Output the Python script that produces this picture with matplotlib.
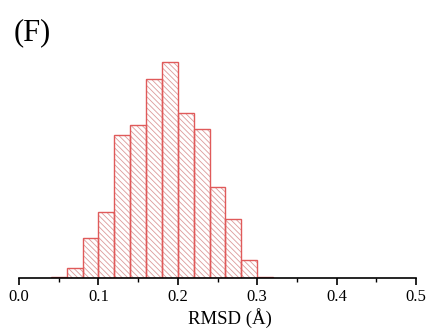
import matplotlib
matplotlib.use("Agg")
import matplotlib.pyplot as plt
import numpy as np
from matplotlib.ticker import MultipleLocator, FormatStrFormatter

plt.rcParams['font.family'] = ['Liberation Serif', 'DejaVu Serif']
plt.rcParams['hatch.linewidth'] = 0.6

bin_left = [0.04, 0.06, 0.08, 0.10, 0.12, 0.14, 0.16, 0.18, 0.20, 0.22, 0.24, 0.26, 0.28, 0.30]
counts = [1.3, 10, 40, 66, 143, 153, 199, 216, 165, 149, 91, 59, 18, 1.3]
bin_width = 0.02

fig = plt.figure(figsize=(4.32, 3.35), dpi=100)
ax = fig.add_axes([19/432, 57/335, (416-19)/432, 228/335])

ax.bar(bin_left, counts, width=bin_width, align='edge', color='white',
       edgecolor='#dc9a9a', hatch=r'\\\\\\', linewidth=0)
ax.bar(bin_left, counts, width=bin_width, align='edge', fill=False,
       edgecolor='#e05a5a', linewidth=1.0)

ax.set_xlim(0, 0.5)
ax.set_ylim(0, 228)
for s in ['top', 'right', 'left']:
    ax.spines[s].set_visible(False)
ax.spines['bottom'].set_linewidth(1.2)
ax.set_yticks([])
ax.xaxis.set_major_locator(MultipleLocator(0.1))
ax.xaxis.set_minor_locator(MultipleLocator(0.05))
ax.xaxis.set_major_formatter(FormatStrFormatter('%.1f'))
ax.tick_params(axis='x', which='major', direction='out', length=5, width=1.2, labelsize=12, pad=3)
ax.tick_params(axis='x', which='minor', direction='out', length=3, width=1.0)
ax.set_xlabel('RMSD (Å)', fontsize=13.5)
ax.xaxis.set_label_coords((230 - 19) / 397, (278 - 308) / 228)
ax.xaxis.label.set_va('top')

fig.text(14/432, 1 - 33/335, '(F)', fontsize=22, va='center', ha='left')

fig.savefig('out.png', dpi=100)
